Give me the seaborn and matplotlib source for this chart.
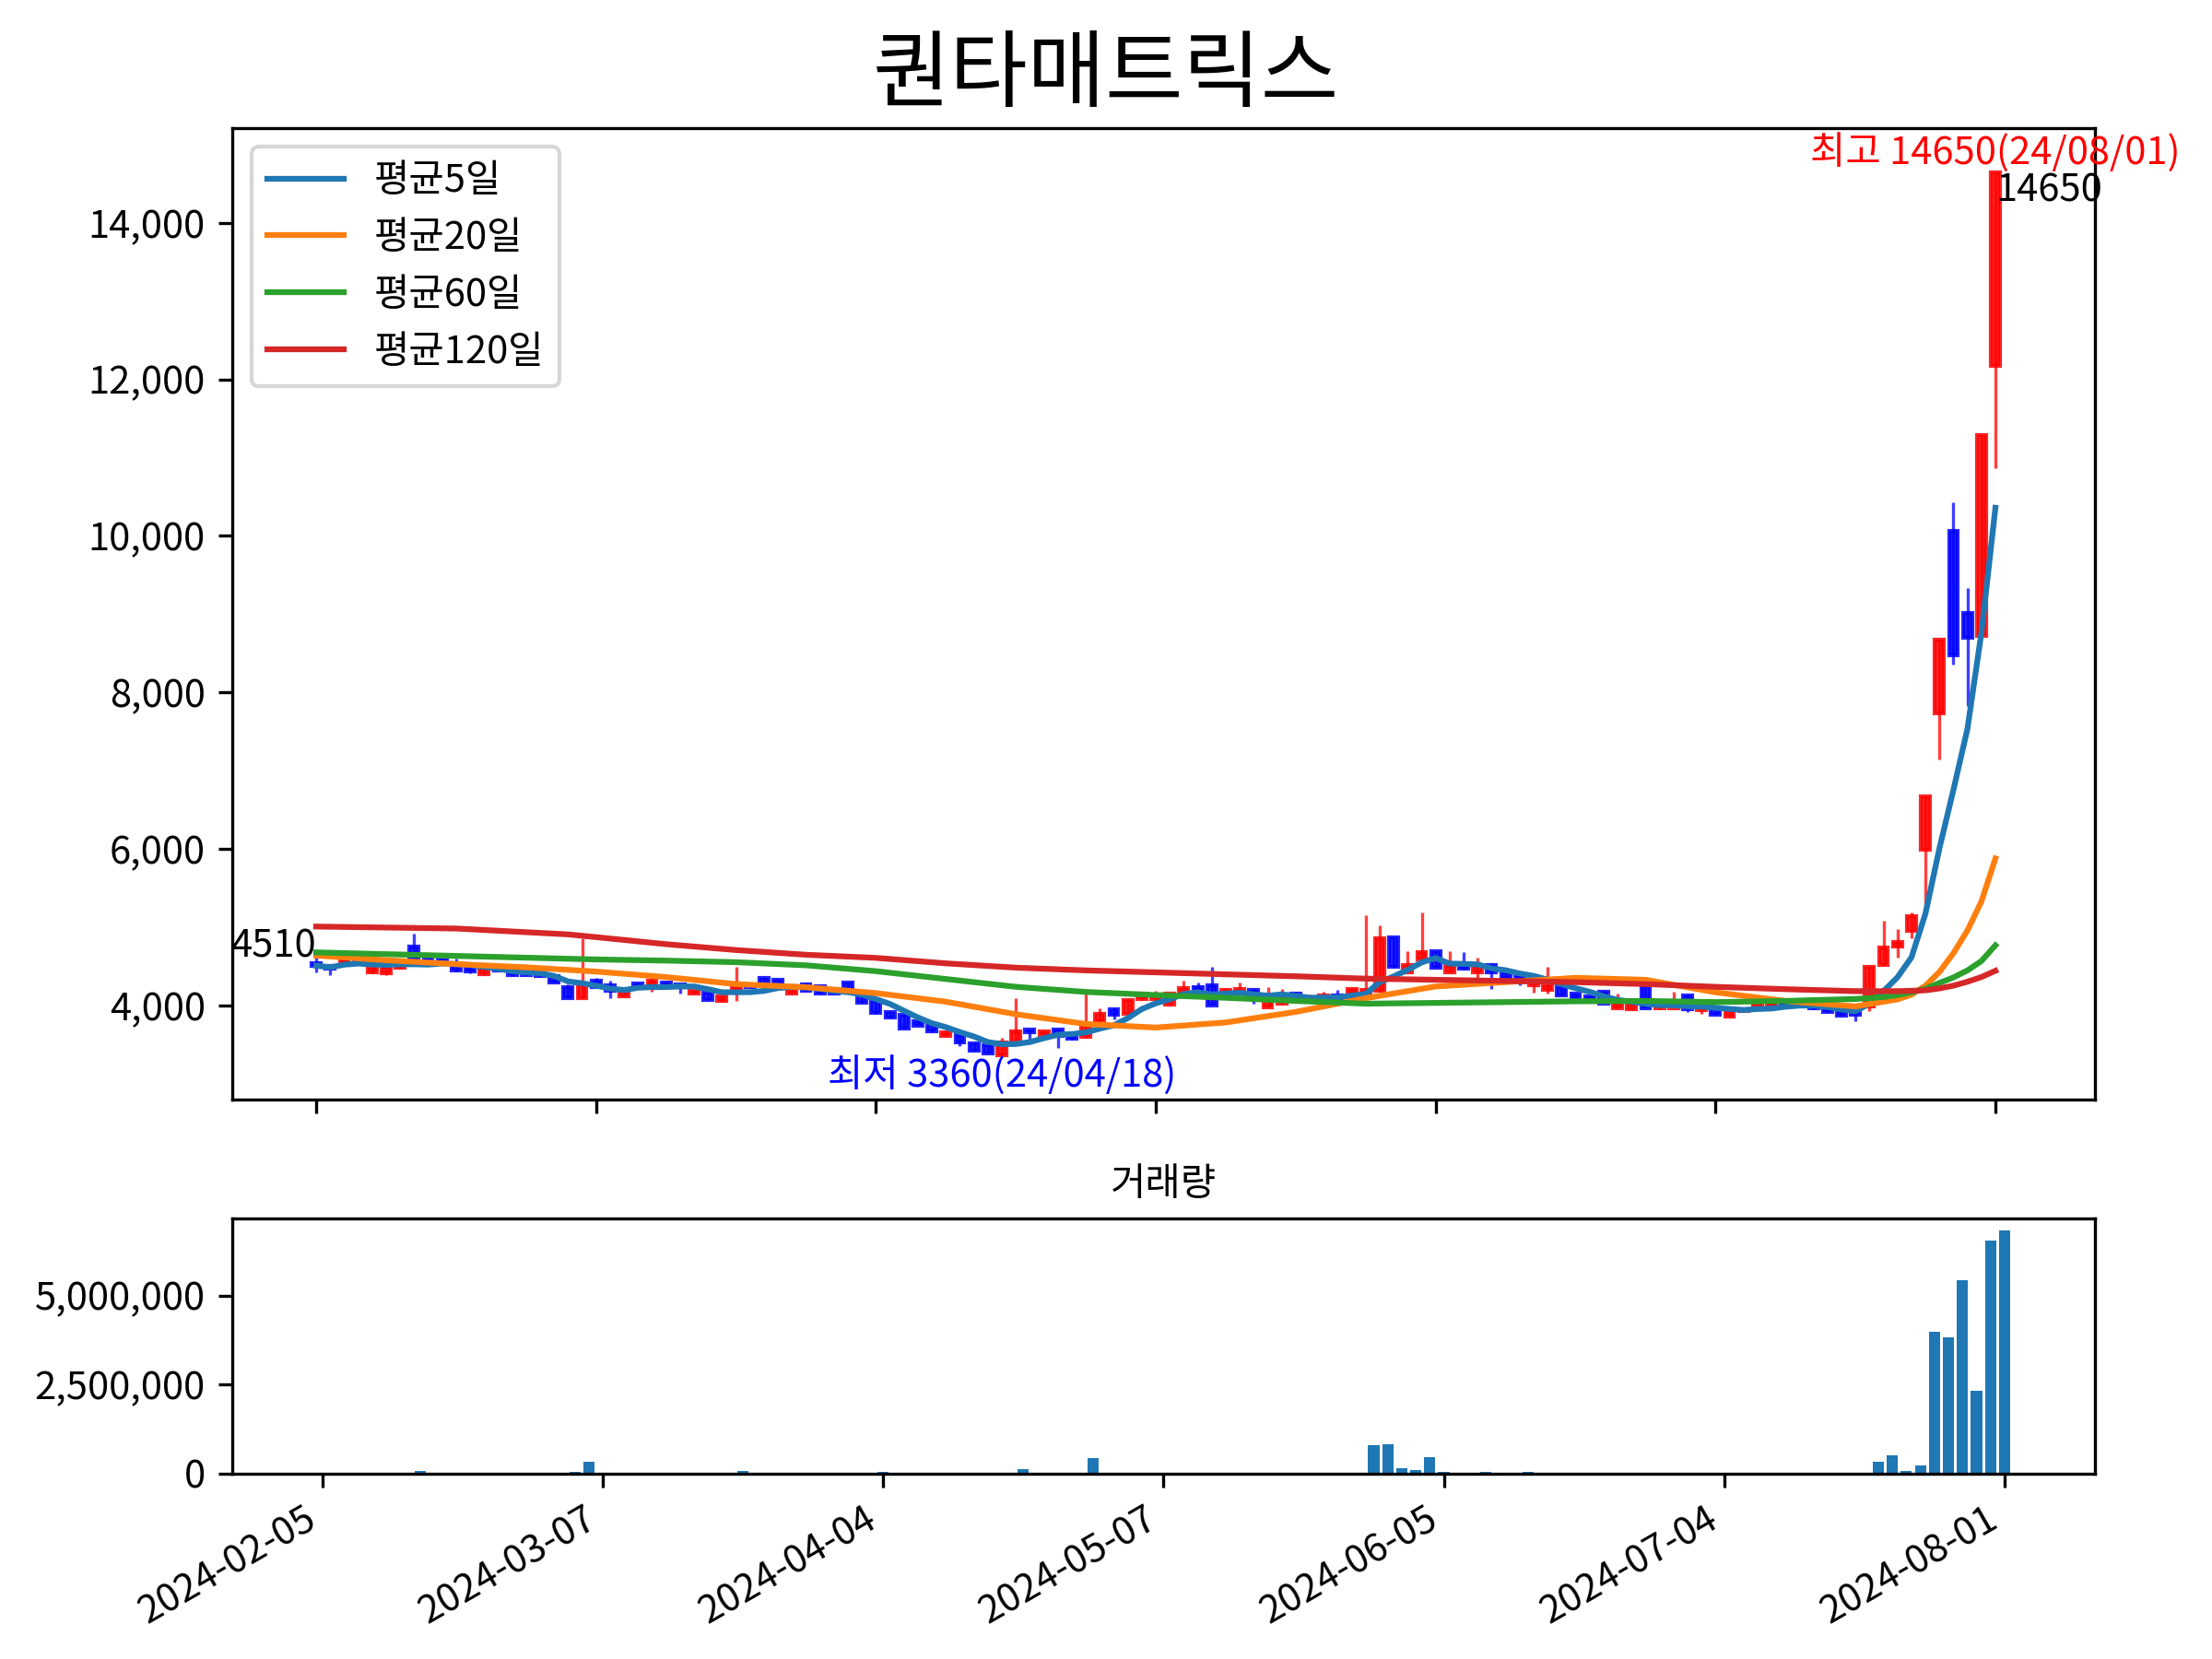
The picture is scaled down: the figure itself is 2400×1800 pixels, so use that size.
import numpy as np
import pandas as pd
import seaborn as sns
import matplotlib
matplotlib.use('Agg')
import matplotlib.pyplot as plt
from matplotlib.patches import Rectangle
from matplotlib.ticker import FuncFormatter

stock_name = '퀀타매트릭스'

# KRX trading calendar for the window shown
market_holidays = ['2024-02-09', '2024-02-12', '2024-03-01', '2024-04-10',
                   '2024-05-01', '2024-05-06', '2024-05-15', '2024-06-06']
dates = pd.bdate_range('2024-02-05', '2024-08-01', freq='C', holidays=market_holidays)

opens = [
    4540, 4510, 4530, 4610, 4420, 4410, 4480, 4760, 4600, 4590,
    4530, 4480, 4400, 4470, 4450, 4440, 4430, 4375, 4235, 4100,
    4315, 4255, 4120, 4280, 4255, 4295, 4275, 4160, 4165, 4060,
    4190, 4245, 4360, 4335, 4160, 4275, 4245, 4215, 4290, 4140,
    4060, 3920, 3885, 3805, 3765, 3610, 3630, 3520, 3500, 3370,
    3510, 3695, 3625, 3695, 3625, 3600, 3805, 3955, 3890, 4080,
    4080, 4010, 4150, 4235, 4265, 4180, 4160, 4205, 3980, 4020,
    4150, 4070, 4100, 4135, 4155, 4160, 4195, 4870, 4425, 4590,
    4695, 4430, 4530, 4425, 4520, 4430, 4375, 4255, 4205, 4235,
    4155, 4120, 4175, 3970, 3955, 4265, 3960, 3970, 4135, 3940,
    3960, 3865, 3930, 3950, 4000, 4030, 4010, 4000, 3980, 3930,
    3930, 3990, 4520, 4760, 4960, 5990, 7730, 10070, 9020, 8720,
    12170]
highs = [
    4630, 4530, 4620, 4630, 4490, 4480, 4520, 4920, 4610, 4600,
    4600, 4490, 4470, 4480, 4460, 4450, 4440, 4380, 4275, 4860,
    4355, 4315, 4200, 4290, 4355, 4300, 4280, 4200, 4170, 4120,
    4490, 4260, 4365, 4340, 4200, 4295, 4250, 4220, 4295, 4145,
    4065, 3925, 3890, 3810, 3770, 3680, 3635, 3525, 3505, 3590,
    4100, 3700, 3680, 3700, 3630, 4195, 3960, 3960, 4080, 4150,
    4190, 4160, 4315, 4295, 4490, 4220, 4295, 4210, 4235, 4215,
    4180, 4145, 4180, 4205, 4220, 5150, 5020, 4880, 4695, 5190,
    4700, 4695, 4680, 4610, 4540, 4450, 4380, 4335, 4490, 4240,
    4160, 4125, 4190, 4150, 4025, 4270, 4010, 4175, 4140, 4085,
    3965, 3935, 3960, 4030, 4040, 4040, 4020, 4010, 3990, 3940,
    3940, 4510, 5090, 4980, 5195, 6670, 8680, 10430, 9330, 11290,
    14650]
lows = [
    4420, 4390, 4520, 4570, 4410, 4385, 4470, 4580, 4550, 4540,
    4440, 4410, 4390, 4440, 4380, 4380, 4370, 4290, 4100, 4100,
    4235, 4100, 4115, 4240, 4175, 4230, 4160, 4150, 4070, 4050,
    4060, 4230, 4270, 4250, 4155, 4180, 4150, 4150, 4160, 4040,
    3900, 3840, 3705, 3740, 3665, 3600, 3480, 3430, 3390, 3360,
    3500, 3530, 3620, 3460, 3570, 3590, 3790, 3825, 3885, 4075,
    4060, 4000, 4140, 4160, 4000, 4160, 4150, 4030, 3975, 4015,
    4095, 4065, 4095, 4095, 4150, 4150, 4175, 4480, 4415, 4580,
    4480, 4425, 4465, 4355, 4215, 4355, 4265, 4165, 4150, 4135,
    4095, 4075, 4030, 3965, 3950, 3960, 3955, 3965, 3915, 3900,
    3880, 3860, 3920, 3940, 3990, 3990, 3990, 3950, 3915, 3870,
    3805, 3930, 4510, 4610, 4855, 5150, 7150, 8360, 7830, 8720,
    10870]
closes = [
    4510, 4470, 4590, 4580, 4480, 4480, 4510, 4590, 4560, 4550,
    4450, 4440, 4470, 4450, 4385, 4390, 4375, 4295, 4100, 4270,
    4235, 4195, 4195, 4245, 4315, 4235, 4235, 4195, 4070, 4120,
    4235, 4240, 4275, 4255, 4195, 4195, 4150, 4150, 4170, 4040,
    3905, 3845, 3710, 3745, 3670, 3655, 3530, 3430, 3390, 3530,
    3670, 3655, 3675, 3610, 3575, 3770, 3900, 3885, 4075, 4150,
    4140, 4155, 4225, 4190, 4000, 4200, 4215, 4120, 4100, 4085,
    4100, 4100, 4135, 4100, 4210, 4200, 4865, 4490, 4520, 4685,
    4480, 4510, 4470, 4490, 4430, 4360, 4305, 4315, 4255, 4135,
    4100, 4080, 4030, 4020, 4020, 3960, 4005, 4020, 3955, 4000,
    3885, 3930, 3950, 4020, 4030, 4000, 4000, 3960, 3920, 3875,
    3880, 4500, 4745, 4810, 5145, 6670, 8680, 8480, 8700, 11290,
    14650]
volumes = [
    9000, 8000, 10000, 9000, 12000, 10000, 9000, 87000, 12000, 10000,
    9000, 8000, 9000, 8000, 10000, 9000, 11000, 12000, 60000, 322000,
    12000, 35000, 12000, 10000, 35000, 11000, 9000, 10000, 12000, 10000,
    87000, 12000, 12000, 10000, 9000, 11000, 10000, 9000, 12000, 12000,
    60000, 12000, 35000, 12000, 11000, 10000, 26000, 12000, 12000, 12000,
    140000, 12000, 12000, 12000, 10000, 427000, 12000, 12000, 35000, 35000,
    12000, 12000, 26000, 12000, 26000, 12000, 10000, 11000, 12000, 10000,
    9000, 8000, 9000, 10000, 12000, 793000, 819000, 165000, 113000, 453000,
    60000, 12000, 12000, 60000, 12000, 12000, 52000, 26000, 12000, 10000,
    9000, 8000, 10000, 9000, 8000, 12000, 9000, 8000, 10000, 9000,
    9000, 8000, 7000, 9000, 8000, 7000, 8000, 9000, 10000, 12000,
    12000, 322000, 505000, 87000, 244000, 3980000, 3820000, 5440000, 2330000, 6540000,
    6830000]

# longer moving averages (they need history before the window)
ma20_days = [0, 5, 10, 15, 20, 25, 30, 35, 40, 45, 50, 55, 60, 65, 70, 75, 80, 85,
             90, 95, 100, 105, 110, 111, 112, 113, 114, 115, 116, 117, 118, 119, 120]
ma20_vals = [4640, 4580, 4530, 4490, 4435, 4365, 4275, 4235, 4160, 4050, 3890, 3765,
             3720, 3785, 3920, 4095, 4245, 4300, 4355, 4330, 4170, 4060, 3990, 4020,
             4050, 4080, 4140, 4255, 4430, 4670, 4960, 5330, 5880]
ma60_days = [0, 10, 20, 25, 30, 35, 40, 45, 50, 55, 60, 65, 70, 75, 80, 85, 90, 95,
             100, 105, 110, 112, 113, 114, 115, 116, 117, 118, 119, 120]
ma60_vals = [4680, 4635, 4590, 4575, 4555, 4515, 4440, 4340, 4240, 4175, 4135, 4100,
             4060, 4025, 4035, 4045, 4055, 4060, 4045, 4060, 4085, 4110, 4135, 4170,
             4215, 4290, 4360, 4450, 4570, 4770]
ma120_days = [0, 10, 18, 20, 25, 30, 35, 40, 45, 50, 55, 60, 65, 70, 75, 80, 85, 90,
              95, 100, 105, 110, 113, 115, 116, 117, 118, 119, 120]
ma120_vals = [5010, 4985, 4910, 4875, 4785, 4710, 4650, 4610, 4540, 4485, 4450, 4425,
              4400, 4375, 4345, 4330, 4315, 4300, 4275, 4240, 4210, 4185, 4185, 4195,
              4220, 4255, 4305, 4365, 4445]

df = pd.DataFrame({'open': opens, 'high': highs, 'low': lows,
                   'close': closes, 'volume': volumes})
assert len(df) == len(dates) == 121
df['ma5'] = df['close'].rolling(5, min_periods=1).mean()
day_idx = np.arange(len(df))

sns.set_theme(style='ticks')
plt.rcParams.update({
    'font.family': ['Noto Sans CJK KR', 'DejaVu Sans'],
    'font.size': 10, 'axes.titlesize': 10, 'legend.fontsize': 10,
    'xtick.labelsize': 10, 'ytick.labelsize': 10,
    'axes.edgecolor': 'black', 'axes.linewidth': 0.8,
    'xtick.color': 'black', 'ytick.color': 'black',
    'text.color': 'black', 'axes.labelcolor': 'black',
    'xtick.major.size': 3.5, 'ytick.major.size': 3.5,
    'xtick.major.width': 0.8, 'ytick.major.width': 0.8,
    'patch.force_edgecolor': False, 'lines.solid_capstyle': 'projecting',
    'axes.unicode_minus': False,
})

fig = plt.figure(figsize=(8, 6))
ax = fig.add_axes([0.105, 0.337, 0.842, 0.586])
ax_vol = fig.add_axes([0.105, 0.1117, 0.842, 0.154])

# candles
body_w = 0.65
for i, row in df.iterrows():
    color = 'red' if row['close'] >= row['open'] else 'blue'
    ax.vlines(i, row['low'], row['high'], color=color, linewidth=0.8, alpha=0.75, zorder=1)
    bottom = min(row['open'], row['close'])
    ax.add_patch(Rectangle((i - body_w / 2, bottom), body_w, abs(row['close'] - row['open']),
                           facecolor=color, edgecolor=color, linewidth=1.0, alpha=0.85, zorder=2))

sns.lineplot(x=day_idx, y=df['ma5'].values, color='tab:blue', linewidth=1.5, label='평균5일', ax=ax, zorder=3)
sns.lineplot(x=ma20_days, y=ma20_vals, color='tab:orange', linewidth=1.5, label='평균20일', ax=ax, zorder=3)
sns.lineplot(x=ma60_days, y=ma60_vals, color='tab:green', linewidth=1.5, label='평균60일', ax=ax, zorder=3)
sns.lineplot(x=ma120_days, y=ma120_vals, color='tab:red', linewidth=1.5, label='평균120일', ax=ax, zorder=3)
ax.legend(loc='upper left', frameon=True, fancybox=True, framealpha=0.8, edgecolor='0.8')

lo, hi = min(lows), max(highs)
pad = (hi - lo) * 0.05
ax.set_ylim(lo - pad, hi + pad)
ax.set_xlim(-6.0, 127.1)
ax.set_yticks(range(4000, 14001, 2000))
ax.yaxis.set_major_formatter(FuncFormatter(lambda v, p: f'{v:,.0f}'))

tick_idx = list(range(0, len(df), 20))
ax.set_xticks(tick_idx)
ax.set_xticklabels([])

# price annotations
ax.text(0, closes[0], str(closes[0]), ha='right', va='bottom')
ax.text(len(df) - 1, closes[-1], str(closes[-1]), ha='left', va='top')
hi_i = int(np.argmax(highs))
lo_i = int(np.argmin(lows))
ax.text(hi_i, highs[hi_i], f'최고 {highs[hi_i]}({dates[hi_i]:%y/%m/%d})',
        color='red', ha='center', va='bottom')
ax.text(lo_i, lows[lo_i], f'최저 {lows[lo_i]}({dates[lo_i]:%y/%m/%d})',
        color='blue', ha='center', va='top')

# volume
sns.barplot(x=day_idx, y=volumes, native_scale=True, color='#1f77b4', saturation=1,
            width=0.8, errorbar=None, ax=ax_vol)
ax_vol.set_xlim(-6.44, 126.44)
ax_vol.set_xticks(tick_idx)
ax_vol.set_xticklabels(dates[tick_idx].strftime('%Y-%m-%d'), rotation=30, ha='right')
ax_vol.set_yticks([0, 2500000, 5000000])
ax_vol.yaxis.set_major_formatter(FuncFormatter(lambda v, p: f'{v:,.0f}'))
ax_vol.set_title('거래량')
ax_vol.set_xlabel('')
ax_vol.set_ylabel('')

fig.suptitle(stock_name, fontsize=22)
fig.savefig('out.png', dpi=300)
